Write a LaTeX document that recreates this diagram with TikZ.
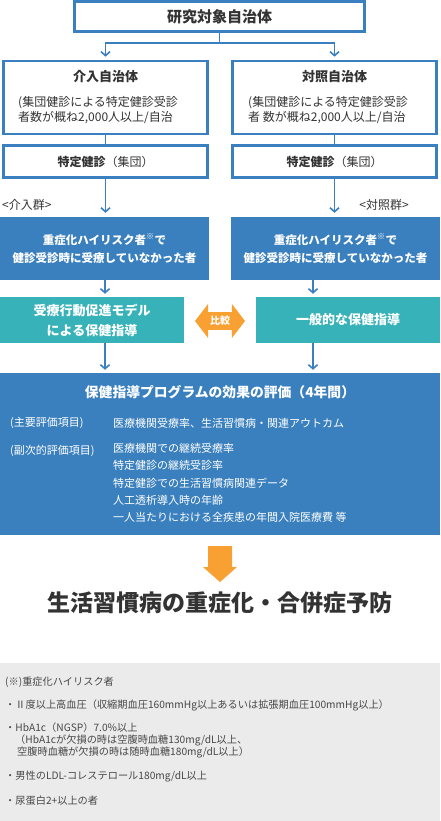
\documentclass[tikz,border=0pt]{standalone}
\usepackage{fontspec}
\setmainfont{Noto Sans CJK JP}
\usetikzlibrary{arrows.meta,shapes.arrows}

\definecolor{blueline}{RGB}{58,127,192}
\definecolor{bluefill}{RGB}{58,128,190}
\definecolor{tealfill}{RGB}{56,178,185}
\definecolor{orangefill}{RGB}{248,160,50}
\definecolor{notefill}{RGB}{235,235,235}
\definecolor{textdark}{RGB}{51,51,51}

\begin{document}
\begin{tikzpicture}[
  x=1pt, y=-1pt,
  frame/.style={draw=blueline, line width=2.6pt, fill=white, inner sep=0pt, text=textdark},
  bluebox/.style={fill=bluefill, inner sep=0pt, text=white, align=center, font=\fontsize{11.5}{18}\selectfont\bfseries},
  tealbox/.style={fill=tealfill, inner sep=0pt, text=white, align=center, font=\fontsize{13}{20}\selectfont\bfseries},
  plain/.style={inner sep=0pt, text=textdark},
  arrow/.style={draw=blueline, line width=1.6pt, -{Straight Barb[length=4pt,width=9pt]}},
  link/.style={draw=blueline, line width=1.6pt}
]
\useasboundingbox (0,0) rectangle (440,821);

% Top box
\node[frame, minimum width=290pt, minimum height=30pt, font=\fontsize{15}{18}\selectfont\bfseries] (target) at (219.5,16.5) {研究対象自治体};

% Municipalities at y=97
\node[frame, minimum width=204pt, minimum height=73pt] (kainyu) at (105.5,97.5) {};
\node[frame, minimum width=204pt, minimum height=73pt] (taisho) at (334.5,97.5) {};
\node[plain, font=\fontsize{13}{16}\selectfont\bfseries] at (105.5,77) {介入自治体};
\node[plain, font=\fontsize{13}{16}\selectfont\bfseries] at (334.5,77) {対照自治体};
\node[plain, anchor=west, align=left, font=\fontsize{12}{15}\selectfont] at (18,110.5) {(集団健診による特定健診受診\\者数が概ね2,000人以上/自治};
\node[plain, anchor=west, align=left, font=\fontsize{12}{15}\selectfont] at (248,110.5) {(集団健診による特定健診受診\\者 数が概ね2,000人以上/自治};

% Health checkups at y=161
\node[frame, minimum width=204pt, minimum height=32pt, font=\fontsize{12}{15}\selectfont] (checkL) at (105.5,161.5) {\textbf{特定健診}（集団）};
\node[frame, minimum width=204pt, minimum height=32pt, font=\fontsize{12}{15}\selectfont] (checkR) at (334.5,161.5) {\textbf{特定健診}（集団）};

% Group labels
\node[plain, anchor=west, font=\fontsize{12}{15}\selectfont] (grpL) at (2,205) {<介入群>};
\node[plain, anchor=east, font=\fontsize{12}{15}\selectfont] (grpR) at (409,205) {<対照群>};

% High risk boxes at y=248
\node[bluebox, minimum width=209pt, minimum height=63pt] (hiL) at (104.5,248.5) {重症化ハイリスク者\textsuperscript{※}で\\健診受診時に受療していなかった者};
\node[bluebox, minimum width=209pt, minimum height=63pt] (hiR) at (335.5,248.5) {重症化ハイリスク者\textsuperscript{※}で\\健診受診時に受療していなかった者};

% Guidance boxes at y=320
\node[tealbox, minimum width=184pt, minimum height=46pt] (guideL) at (92,320) {受療行動促進モデル\\による保健指導};
\node[tealbox, minimum width=184pt, minimum height=46pt] (guideR) at (348,320) {一般的な保健指導};
\node[shape=double arrow, fill=orangefill, text=white, font=\fontsize{10}{12}\selectfont\bfseries,
  double arrow head extend=8pt, double arrow tip angle=105, minimum height=50pt,
  inner xsep=1pt, inner ysep=4pt] (hikaku) at (220,321) {比較};

% Evaluation box
\node[fill=bluefill, minimum width=440pt, minimum height=162pt, inner sep=0pt] (eval) at (220,454) {};
\node[plain, text=white, font=\fontsize{13.8}{16}\selectfont\bfseries] at (220,392) {保健指導プログラムの効果の評価（4年間）};
\node[plain, text=white, anchor=west, font=\fontsize{11}{14}\selectfont] (mainlbl) at (10,423) {(主要評価項目)};
\node[plain, text=white, anchor=west, font=\fontsize{11}{14}\selectfont] (mainitem) at (113,423) {医療機関受療率、生活習慣病・関連アウトカム};
\node[plain, text=white, anchor=west, font=\fontsize{11}{14}\selectfont] (sublbl) at (10,451) {(副次的評価項目)};
\node[plain, text=white, anchor=north west, align=left, font=\fontsize{11}{17.3}\selectfont] (subitem) at (113,443) {医療機関での継続受療率\\特定健診の継続受診率\\特定健診での生活習慣病関連データ\\人工透析導入時の年齢\\一人当たりにおける全疾患の年間入院医療費 等};

% Outcome
\fill[orangefill] (208,546) -- (232,546) -- (232,567) -- (237,567) -- (220,582) -- (203,567) -- (208,567) -- cycle;
\node[plain, font=\fontsize{23}{26}\selectfont\bfseries] (goal) at (220,603) {生活習慣病の重症化・合併症予防};

% Footnote
\fill[notefill] (0,663) rectangle (440,821);
\begin{scope}[every node/.style={plain, anchor=west, text=textdark!90, font=\fontsize{10.2}{13}\selectfont}]
\node (note0) at (5,682) {(※)重症化ハイリスク者};
\node (note1) at (5,705) {・Ⅱ度以上高血圧（収縮期血圧160mmHg以上あるいは拡張期血圧100mmHg以上）};
\node (note2) at (5,728) {・HbA1c（NGSP）7.0\%以上};
\node (note3) at (15,740) {（HbA1cが欠損の時は空腹時血糖130mg/dL以上、};
\node (note4) at (17,752) {空腹時血糖が欠損の時は随時血糖180mg/dL以上）};
\node (note5) at (5,776) {・男性のLDL-コレステロール180mg/dL以上};
\node (note6) at (5,801) {・尿蛋白2+以上の者};
\end{scope}

% Columns for the arrows
\coordinate (colL) at (105,0);
\coordinate (colR) at (313,0);

% Connections
\draw[arrow, shorten >=3pt] (target.south) -- ++(0,10.5) -| (kainyu.north);
\draw[arrow, shorten >=3pt] (target.south) -- ++(0,10.5) -| (taisho.north);
\draw[link] (kainyu.south) -- (checkL.north);
\draw[link] (taisho.south) -- (checkR.north);
\draw[arrow, shorten >=4pt] (checkL.south) -- (checkL.south |- hiL.north);
\draw[arrow, shorten >=4pt] (checkR.south) -- (checkR.south |- hiR.north);
\draw[arrow, shorten >=3pt] (colL |- hiL.south) -- (colL |- guideL.north);
\draw[arrow, shorten >=3pt] (colR |- hiR.south) -- (colR |- guideR.north);
\draw[arrow, shorten >=3pt] (colL |- guideL.south) -- (colL |- eval.north);
\draw[arrow, shorten >=3pt] (colR |- guideR.south) -- (colR |- eval.north);

\end{tikzpicture}
\end{document}
